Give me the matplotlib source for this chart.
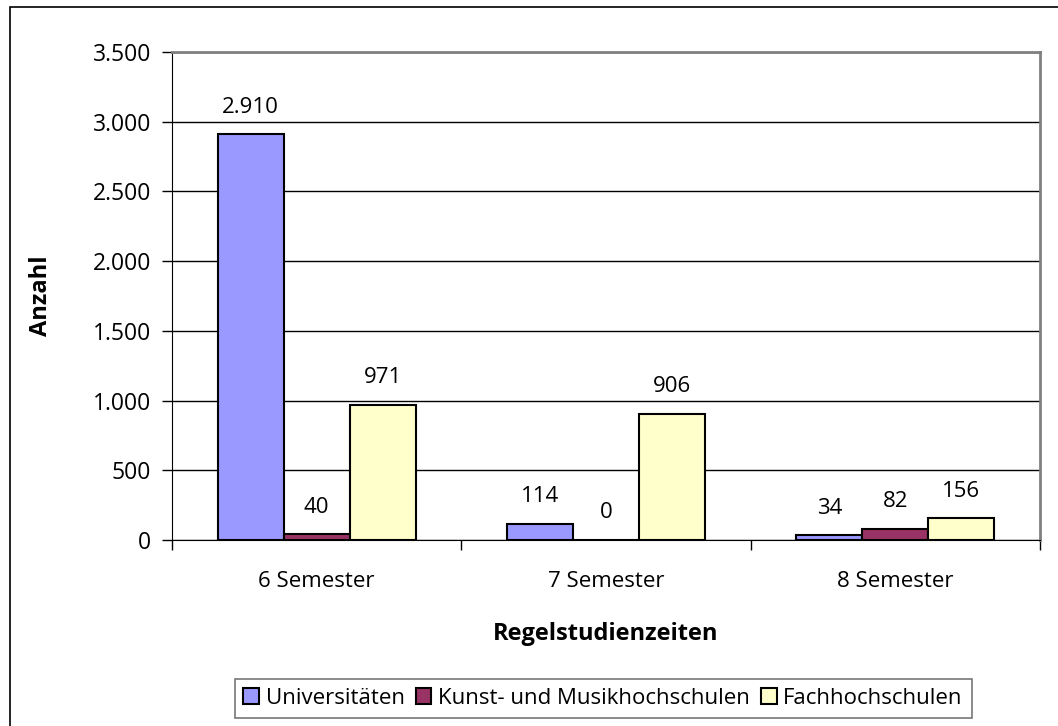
import matplotlib
matplotlib.use("Agg")
import matplotlib.pyplot as plt
import numpy as np
from matplotlib.patches import Rectangle

# data
categories = ['6 Semester', '7 Semester', '8 Semester']
series_names = ['Universitäten', 'Kunst- und Musikhochschulen', 'Fachhochschulen']
universitaeten = [2910, 114, 34]
kunst_musik = [40, 0, 82]
fachhochschulen = [971, 906, 156]
y_ticks = [0, 500, 1000, 1500, 2000, 2500, 3000, 3500]

colors = ['#9999FF', '#993366', '#FFFFCC']

plt.rcParams['font.family'] = ['Open Sans', 'DejaVu Sans']

fig = plt.figure(figsize=(10.58, 7.26), dpi=100)
ax = fig.add_axes([0.1626, 0.2562, 0.8204, 0.6722])

# outer chart border
fig.patches.append(Rectangle((0.0099, -0.02), 1.2, 1.0097, transform=fig.transFigure,
                             fill=False, edgecolor='black', linewidth=1.2))

x = np.arange(len(categories))
width = 0.228
all_series = [universitaeten, kunst_musik, fachhochschulen]
for i, (vals, name) in enumerate(zip(all_series, series_names)):
    bars = ax.bar(x + (i - 1) * width, vals, width, color=colors[i], edgecolor='black',
                  linewidth=1.5, label=name, zorder=3)
    ax.bar_label(bars, labels=[f'{v:,}'.replace(',', '.') for v in vals],
                 padding=12, fontsize=16)

ax.set_xlim(-0.5, 2.5)
ax.set_ylim(0, 3500)
ax.set_yticks(y_ticks)
ax.set_yticklabels([f'{v:,}'.replace(',', '.') for v in y_ticks], fontsize=16.5)
ax.yaxis.grid(True, color='black', linewidth=1)
ax.set_axisbelow(True)

# category labels in the middle, tick marks at the boundaries
ax.set_xticks(x)
ax.set_xticklabels(categories, fontsize=16)
ax.tick_params(axis='x', length=0, pad=22)
ax.set_xticks([-0.5, 0.5, 1.5, 2.5], minor=True)
ax.tick_params(axis='x', which='minor', length=7, width=1)
ax.tick_params(axis='y', length=7, width=1, pad=8)

ax.spines['top'].set_color('#808080')
ax.spines['right'].set_color('#808080')
ax.spines['top'].set_linewidth(2)
ax.spines['right'].set_linewidth(2)

ax.set_xlabel('Regelstudienzeiten', fontsize=17, fontweight='bold', labelpad=22)
ax.set_ylabel('Anzahl', fontsize=17, fontweight='bold', labelpad=29)

leg = fig.legend(loc='center', bbox_to_anchor=(0.570, 0.038), ncol=3, fontsize=16,
                 frameon=True, fancybox=False, handlelength=0.7, handleheight=0.7,
                 handletextpad=0.3, columnspacing=0.5, borderpad=0.4)
leg.get_frame().set_edgecolor('#555555')
leg.get_frame().set_linewidth(1.2)

plt.savefig('out.png', dpi=100)
